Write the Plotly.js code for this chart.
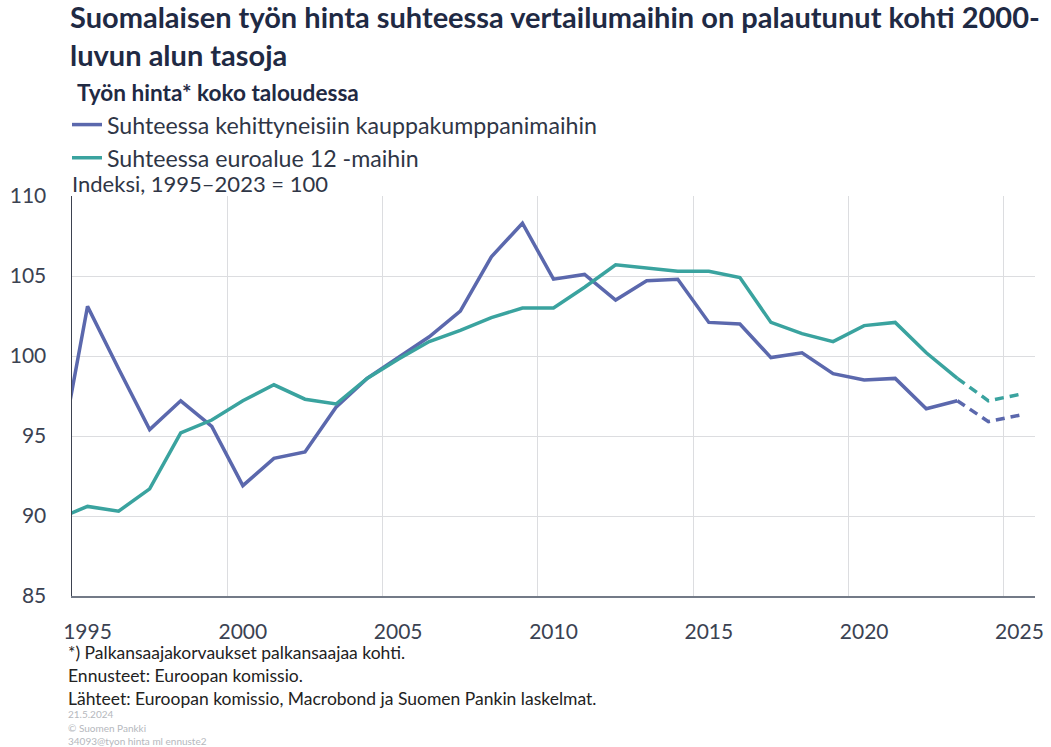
<!DOCTYPE html>
<html>
<head>
<meta charset="utf-8">
<script src="https://cdn.plot.ly/plotly-3.0.1.min.js"></script>
<style>
  html, body { margin: 0; padding: 0; background: #ffffff; }
  #chart { width: 1051px; height: 747px; }
</style>
</head>
<body>
<div id="chart"></div>
<script>
// ---- Data (annual, index 1995–2023 = 100) ----
const years = [1994, 1995, 1996, 1997, 1998, 1999, 2000, 2001, 2002, 2003, 2004, 2005, 2006, 2007, 2008, 2009,
               2010, 2011, 2012, 2013, 2014, 2015, 2016, 2017, 2018, 2019, 2020, 2021, 2022, 2023, 2024, 2025];
const kehittyneet = [92.6, 103.1, 99.2, 95.4, 97.2, 95.6, 91.9, 93.6, 94.0, 96.8, 98.6, 99.9, 101.2, 102.8, 106.2, 108.3,
                     104.8, 105.1, 103.5, 104.7, 104.8, 102.1, 102.0, 99.9, 100.2, 98.9, 98.5, 98.6, 96.7, 97.2, 95.9, 96.3];
const euroalue12 = [89.8, 90.6, 90.3, 91.7, 95.2, 96.0, 97.2, 98.2, 97.3, 97.0, 98.6, 99.8, 100.9, 101.6, 102.4, 103.0,
                    103.0, 104.3, 105.7, 105.5, 105.3, 105.3, 104.9, 102.1, 101.4, 100.9, 101.9, 102.1, 100.2, 98.6, 97.2, 97.6];
const lastActualYear = 2023;               // later years are forecasts (dashed)
const seriesNames = ['Suhteessa kehittyneisiin kauppakumppanimaihin', 'Suhteessa euroalue 12 -maihin'];
const xTickYears = [1995, 2000, 2005, 2010, 2015, 2020, 2025];
const xGridYears = [2000, 2005, 2010, 2015, 2020, 2025, 2026];
const yTicks = [85, 90, 95, 100, 105, 110];

const titleText = '<b>Suomalaisen työn hinta suhteessa vertailumaihin on palautunut kohti 2000-<br>luvun alun tasoja</b>';
const subtitleText = '<b>Työn hinta* koko taloudessa</b>';
const unitText = 'Indeksi, 1995–2023 = 100';
const footnotes = ['*) Palkansaajakorvaukset palkansaajaa kohti.', 'Ennusteet: Euroopan komissio.',
                   'Lähteet: Euroopan komissio, Macrobond ja Suomen Pankin laskelmat.'];
const smallNotes = ['21.5.2024', '© Suomen Pankki', '34093@tyon hinta ml ennuste2'];

// ---- Styling ----
const FONT = 'Lato, "Open Sans", sans-serif';
const TXT = '#2f3646';
const colors = ['#5b68ad', '#3aa39f'];
const W = 1051, H = 747;
const M = {l: 72, r: 16, t: 196, b: 151};
const plotW = W - M.l - M.r, plotH = H - M.t - M.b;
const px2x = p => (p - M.l) / plotW;
const px2y = p => (H - M.b - p) / plotH;

// x positions: each annual value sits in the middle of its year
const xpos = years.map(y => y + 0.5);
const cut = years.indexOf(lastActualYear);

const traces = [];
[kehittyneet, euroalue12].forEach((vals, i) => {
  traces.push({
    x: xpos.slice(0, cut + 1), y: vals.slice(0, cut + 1),
    type: 'scatter', mode: 'lines', name: seriesNames[i],
    line: {color: colors[i], width: 3.5}, legendrank: i + 1, hoverinfo: 'x+y'
  });
  traces.push({
    x: xpos.slice(cut), y: vals.slice(cut),
    type: 'scatter', mode: 'lines', name: seriesNames[i] + ' (ennuste)', showlegend: false,
    line: {color: colors[i], width: 3.5, dash: '9px,6px'}, hoverinfo: 'x+y'
  });
});

const annotations = [];
annotations.push({text: subtitleText, xref: 'paper', yref: 'paper', x: px2x(75), y: px2y(92),
  xanchor: 'left', yanchor: 'middle', showarrow: false, font: {family: FONT, size: 22.6, color: '#1f2a44'}});
annotations.push({text: unitText, xref: 'paper', yref: 'paper', x: px2x(70), y: px2y(183),
  xanchor: 'left', yanchor: 'middle', showarrow: false, font: {family: FONT, size: 22, color: TXT}});
[652, 675, 698].forEach((py, i) => annotations.push({text: footnotes[i], xref: 'paper', yref: 'paper',
  x: px2x(66), y: px2y(py), xanchor: 'left', yanchor: 'middle', showarrow: false,
  font: {family: FONT, size: 17.5, color: '#222222'}}));
[714, 728, 741].forEach((py, i) => annotations.push({text: smallNotes[i], xref: 'paper', yref: 'paper',
  x: px2x(66), y: px2y(py), xanchor: 'left', yanchor: 'middle', showarrow: false,
  font: {family: FONT, size: 10, color: '#b5b8bd'}}));

const layout = {
  width: W, height: H,
  margin: M,
  paper_bgcolor: '#ffffff', plot_bgcolor: '#ffffff',
  font: {family: FONT, color: TXT},
  title: {text: titleText, xref: 'container', yref: 'container', x: 70 / W, xanchor: 'left',
          y: 1 - 28 / H, yanchor: 'top', font: {family: FONT, size: 29, color: '#1f2a44'}},
  showlegend: true,
  legend: {x: px2x(67), xanchor: 'left', y: px2y(103), yanchor: 'top', bgcolor: 'rgba(0,0,0,0)',
           font: {family: FONT, size: 23.2, color: TXT}, tracegroupgap: 0, traceorder: 'normal'},
  xaxis: {
    range: [1995, 2026], type: 'linear', fixedrange: true,
    tickmode: 'array', tickvals: xTickYears.map(y => y + 0.5), ticktext: xTickYears.map(String),
    showgrid: false, zeroline: false, ticks: '', ticklabelstandoff: 16,
    tickfont: {family: FONT, size: 21, color: '#3b4252'},
    showline: true, linecolor: '#737a87', linewidth: 2,
    minor: {tickmode: 'array', tickvals: xGridYears, showgrid: true, gridcolor: '#dcdde0', gridwidth: 1, ticks: ''}
  },
  yaxis: {
    range: [85, 110], fixedrange: true,
    tickmode: 'array', tickvals: yTicks, ticktext: yTicks.map(String),
    showgrid: true, gridcolor: '#dcdde0', gridwidth: 1, zeroline: false, ticks: '', ticklabelstandoff: 20,
    tickfont: {family: FONT, size: 21, color: '#3b4252'},
    showline: true, linecolor: '#3d4250', linewidth: 1.5
  },
  annotations: annotations
};

Plotly.newPlot('chart', traces, layout, {staticPlot: true, displayModeBar: false});
</script>
</body>
</html>
